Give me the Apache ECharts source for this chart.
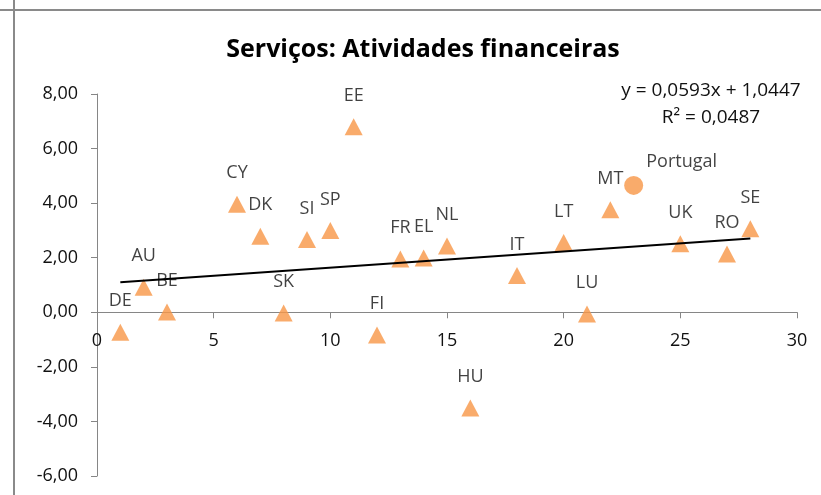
<!DOCTYPE html>
<html><head><meta charset="utf-8">
<script src="https://cdn.jsdelivr.net/npm/echarts@6/dist/echarts.min.js"></script>
<style>html,body{margin:0;padding:0;background:#fff}#c{width:821px;height:495px}</style>
</head><body><div id="c"></div>
<script>
const countries = ['DE','AU','BE','CY','DK','SK','SI','SP','EE','FI','FR','EL','NL','HU','IT','LT','LU','MT','UK','RO','SE'];
const xValues = [1,2,3,6,7,8,9,10,11,12,13,14,15,16,18,20,21,22,25,27,28];
const yValues = [-0.73,0.92,0.01,3.96,2.79,-0.03,2.67,3.0,6.80,-0.83,1.95,1.99,2.43,-3.51,1.35,2.56,-0.06,3.76,2.51,2.14,3.06];
const portugalName = 'Portugal';
const portugalPoint = [23, 4.65];
const trendCoef = [0.0593, 1.0447]; // slope, intercept
const trendR2 = 0.0487;
const trendRange = [1, 28];
const titleText = 'Serviços: Atividades financeiras';
const yMin = -6, yMax = 8, yStep = 2;
const xMin = 0, xMax = 30, xStep = 5;

const FONT = '"Open Sans", "Noto Sans", sans-serif';
const fmt = (v, d) => v.toFixed(d).replace('.', ',');

const GRID = { left: 97, right: 24, top: 94, bottom: 19 };
const plotH = 495 - GRID.top - GRID.bottom;
// move the x axis up so that it crosses the y axis at 0
const xAxisOffset = -plotH * (0 - yMin) / (yMax - yMin);

const pts = xValues.map((x, i) => ({ value: [x, yValues[i]], name: countries[i] }));
const trendData = trendRange.map(x => [x, trendCoef[0] * x + trendCoef[1]]);
const eqText = 'y = ' + fmt(trendCoef[0], 4) + 'x + ' + fmt(trendCoef[1], 4) + '\nR² = ' + fmt(trendR2, 4);

const chart = echarts.init(document.getElementById('c'), null, { renderer: 'canvas' });
chart.setOption({
  animation: false,
  backgroundColor: '#fff',
  title: [
    { text: titleText, left: 423, top: 37, textAlign: 'center', padding: 0,
      textStyle: { fontFamily: FONT, fontSize: 25, fontWeight: 'bold', color: '#000' } },
    { text: eqText, left: 711, top: 77, textAlign: 'center', padding: 0,
      textStyle: { fontFamily: FONT, fontSize: 19, fontWeight: 'normal', color: '#111', lineHeight: 27, align: 'center' } }
  ],
  graphic: [
    { type: 'line', shape: { x1: 14, y1: 0, x2: 14, y2: 495 }, style: { stroke: '#8a8a8a', lineWidth: 2 }, silent: true },
    { type: 'line', shape: { x1: 0, y1: 10, x2: 821, y2: 10 }, style: { stroke: '#8a8a8a', lineWidth: 2 }, silent: true }
  ],
  grid: Object.assign({ outerBoundsMode: 'none', containLabel: false }, GRID),
  xAxis: {
    type: 'value', min: xMin, max: xMax, interval: xStep, position: 'bottom', offset: xAxisOffset,
    axisLine: { onZero: false, lineStyle: { color: '#868686', width: 1 } },
    axisTick: { show: true, length: 6, lineStyle: { color: '#868686' } },
    axisLabel: { margin: 20, fontFamily: FONT, fontSize: 18, color: '#111' },
    splitLine: { show: false }
  },
  yAxis: {
    type: 'value', min: yMin, max: yMax, interval: yStep,
    axisLine: { show: true, onZero: false, lineStyle: { color: '#868686', width: 1 } },
    axisTick: { show: true, length: 6, lineStyle: { color: '#868686' } },
    axisLabel: { margin: 19, fontFamily: FONT, fontSize: 18, color: '#111', formatter: v => fmt(v, 2) },
    splitLine: { show: false }
  },
  series: [
    {
      type: 'scatter', symbol: 'triangle', symbolSize: [18, 17], z: 2,
      itemStyle: { color: '#F79646' },
      label: { show: true, position: 'inside', offset: [0, -31], formatter: p => p.name,
        fontFamily: FONT, fontSize: 18, color: '#111' },
      data: pts
    },
    {
      type: 'scatter', symbol: 'circle', symbolSize: 19, z: 2,
      itemStyle: { color: '#F79646' },
      label: { show: true, position: 'inside', offset: [48, -24], formatter: p => p.name,
        fontFamily: FONT, fontSize: 18, color: '#111' },
      data: [{ value: portugalPoint, name: portugalName }]
    },
    {
      type: 'line', data: trendData, symbol: 'none', z: 3, silent: true,
      lineStyle: { color: '#000', width: 2 }
    }
  ]
});
</script></body></html>
